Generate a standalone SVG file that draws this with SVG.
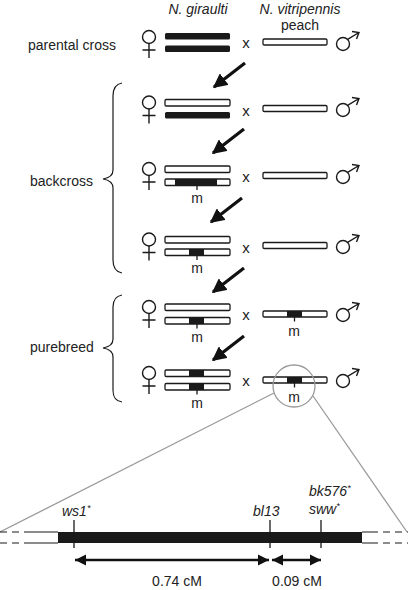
<svg xmlns="http://www.w3.org/2000/svg" width="408" height="590" viewBox="0 0 408 590">
<style>
text{font-family:"Liberation Sans",Arial,sans-serif;fill:#222}
.lbl{font-size:14px}
.it{font-style:italic;font-size:14px}
.m{font-size:14px;text-anchor:middle;fill:#222}
.x{font-size:15px;text-anchor:middle}
.bk{fill:#1a1a1a}
.wh{fill:#fff;stroke:#1a1a1a;stroke-width:1.3}
.sym{fill:none;stroke:#1a1a1a;stroke-width:1.4}
.brace{fill:none;stroke:#1a1a1a;stroke-width:1.2}
.big{stroke:#111;stroke-width:3.2;fill:none}
.gray{fill:none;stroke:#9a9a9a;stroke-width:1.3}
.chr{stroke:#1a1a1a;stroke-width:1.2;fill:none}
.dash{stroke:#1a1a1a;stroke-width:1.2;fill:none;stroke-dasharray:7 5}
.tick{stroke:#1a1a1a;stroke-width:1.3}
.dbl{stroke:#111;stroke-width:2.5}
</style>
<defs>
<g id="female" class="sym"><circle cx="0" cy="0" r="6.5"/><path d="M0,6.5V21M-6.5,13H6.5"/></g>
<g id="male" class="sym"><circle cx="0" cy="0" r="6.5"/><path d="M4.6,-4.6L16,-11.5M9,-12.5L16,-11.5L13.5,-5"/></g>
<marker id="ah" viewBox="0 0 10 10" refX="9" refY="5" markerWidth="4.5" markerHeight="4.5" orient="auto" markerUnits="strokeWidth"><path d="M0,0L10,5L0,10Z" fill="#111"/></marker>
<marker id="dh" viewBox="0 0 10 10" refX="10" refY="5" markerWidth="4.5" markerHeight="4.5" orient="auto-start-reverse" markerUnits="strokeWidth"><path d="M0,0L10,5L0,10Z" fill="#111"/></marker>
</defs>

<g id="headers">
<text class="it" x="198" y="14" text-anchor="middle">N. giraulti</text>
<text class="it" x="300" y="14" text-anchor="middle">N. vitripennis</text>
<text class="lbl" x="300" y="30" text-anchor="middle">peach</text>
</g>

<g id="labels">
<text class="lbl" x="28" y="50">parental cross</text>
<text class="lbl" x="30" y="186">backcross</text>
<text class="lbl" x="30" y="352">purebreed</text>
<path class="brace" d="M122,83C116,84 113,88 113,96L113,170C113,175 109,178 103,179C109,180 113,183 113,188L113,260C113,268 116,272 122,273"/>
<path class="brace" d="M122,295C116,296 113,300 113,307L113,339C113,344 109,347 103,348C109,349 113,352 113,357L113,390C113,398 116,401 122,402"/>
</g>

<g id="row1">
<use href="#female" x="149" y="37"/>
<rect class="bk" x="165" y="33" width="65" height="6.5" rx="1.5"/>
<rect class="bk" x="165" y="45.5" width="65" height="6.5" rx="1.5"/>
<text class="x" x="246" y="48">x</text>
<rect class="wh" x="263" y="39" width="64" height="6" rx="1.2"/>
<use href="#male" x="343" y="44"/>
</g>

<g id="row2">
<use href="#female" x="149" y="102.5"/>
<rect class="wh" x="165" y="99.5" width="65" height="6.5" rx="1.2"/>
<rect class="bk" x="165" y="112" width="65" height="6.5" rx="1.5"/>
<text class="x" x="246" y="116">x</text>
<rect class="wh" x="263" y="105.5" width="64" height="6" rx="1.2"/>
<use href="#male" x="343" y="110"/>
</g>

<g id="row3">
<use href="#female" x="149" y="169"/>
<rect class="wh" x="165" y="166" width="65" height="6.5" rx="1.2"/>
<rect class="wh" x="165" y="179" width="65" height="6.5" rx="1.2"/>
<rect class="bk" x="175" y="179" width="42" height="6.5"/>
<line class="tick" x1="197" y1="185.5" x2="197" y2="190"/>
<text class="m" x="197" y="203">m</text>
<text class="x" x="246" y="182">x</text>
<rect class="wh" x="263" y="172.5" width="64" height="6" rx="1.2"/>
<use href="#male" x="343" y="177"/>
</g>

<g id="row4">
<use href="#female" x="149" y="239.5"/>
<rect class="wh" x="165" y="236.5" width="65" height="6.5" rx="1.2"/>
<rect class="wh" x="165" y="249" width="65" height="6.5" rx="1.2"/>
<rect class="bk" x="189" y="249" width="15" height="6.5"/>
<line class="tick" x1="197" y1="255.5" x2="197" y2="260"/>
<text class="m" x="197" y="273">m</text>
<text class="x" x="246" y="253">x</text>
<rect class="wh" x="263" y="242.5" width="64" height="6" rx="1.2"/>
<use href="#male" x="343" y="247"/>
</g>

<g id="row5">
<use href="#female" x="149" y="307"/>
<rect class="wh" x="165" y="304" width="65" height="6.5" rx="1.2"/>
<rect class="wh" x="165" y="317.5" width="65" height="6.5" rx="1.2"/>
<rect class="bk" x="189" y="317.5" width="15" height="6.5"/>
<line class="tick" x1="197" y1="324" x2="197" y2="328.5"/>
<text class="m" x="197" y="342">m</text>
<text class="x" x="246" y="320">x</text>
<rect class="wh" x="263" y="311" width="64" height="6" rx="1.2"/>
<rect class="bk" x="287" y="311" width="15" height="6"/>
<line class="tick" x1="294.5" y1="317" x2="294.5" y2="321.5"/>
<text class="m" x="294" y="336">m</text>
<use href="#male" x="343" y="315"/>
</g>

<g id="row6">
<use href="#female" x="149" y="373"/>
<rect class="wh" x="165" y="370" width="65" height="6.5" rx="1.2"/>
<rect class="bk" x="189" y="370" width="15" height="6.5"/>
<rect class="wh" x="165" y="383.5" width="65" height="6.5" rx="1.2"/>
<rect class="bk" x="189" y="383.5" width="15" height="6.5"/>
<line class="tick" x1="197" y1="390" x2="197" y2="394.5"/>
<text class="m" x="197" y="408">m</text>
<text class="x" x="246" y="386">x</text>
<rect class="wh" x="263" y="377" width="64" height="6" rx="1.2"/>
<rect class="bk" x="287" y="377" width="15" height="6"/>
<line class="tick" x1="294.5" y1="383" x2="294.5" y2="387.5"/>
<text class="m" x="294" y="402">m</text>
<use href="#male" x="343" y="381"/>
</g>

<g id="connectors">
<line class="big" x1="245" y1="63" x2="214" y2="87" marker-end="url(#ah)"/>
<line class="big" x1="244" y1="129" x2="213" y2="153" marker-end="url(#ah)"/>
<line class="big" x1="242" y1="198" x2="211" y2="222" marker-end="url(#ah)"/>
<line class="big" x1="244" y1="268" x2="213" y2="292" marker-end="url(#ah)"/>
<line class="big" x1="244" y1="336" x2="213" y2="360" marker-end="url(#ah)"/>
</g>

<g id="zoom">
<circle class="gray" cx="294" cy="386" r="21"/>
<line class="gray" x1="274" y1="393" x2="0" y2="532"/>
<line class="gray" x1="313" y1="396" x2="407" y2="532"/>
</g>

<g id="map">
<path class="dash" d="M0,532H30M0,543H30"/>
<path class="chr" d="M30,532H58M30,543H58M362,532H378M362,543H378"/>
<path class="dash" d="M383,532H408M383,543H408"/>
<rect class="bk" x="58" y="532" width="304" height="11"/>
<line class="tick" x1="74" y1="520" x2="74" y2="548"/>
<line class="tick" x1="270" y1="520" x2="270" y2="548"/>
<line class="tick" x1="321" y1="520" x2="321" y2="548"/>
<text class="it" x="62" y="516">ws1<tspan font-size="9" dy="-5">*</tspan></text>
<text class="it" x="253" y="516">bl13</text>
<text class="it" x="309" y="496">bk576<tspan font-size="9" dy="-5">*</tspan></text>
<text class="it" x="309" y="514">sww<tspan font-size="9" dy="-5">*</tspan></text>
<line class="dbl" x1="75" y1="560" x2="269" y2="560" marker-start="url(#dh)" marker-end="url(#dh)"/>
<line class="dbl" x1="272" y1="560" x2="321" y2="560" marker-start="url(#dh)" marker-end="url(#dh)"/>
<text class="lbl" x="177" y="586" text-anchor="middle">0.74 cM</text>
<text class="lbl" x="297" y="586" text-anchor="middle">0.09 cM</text>
</g>
</svg>
